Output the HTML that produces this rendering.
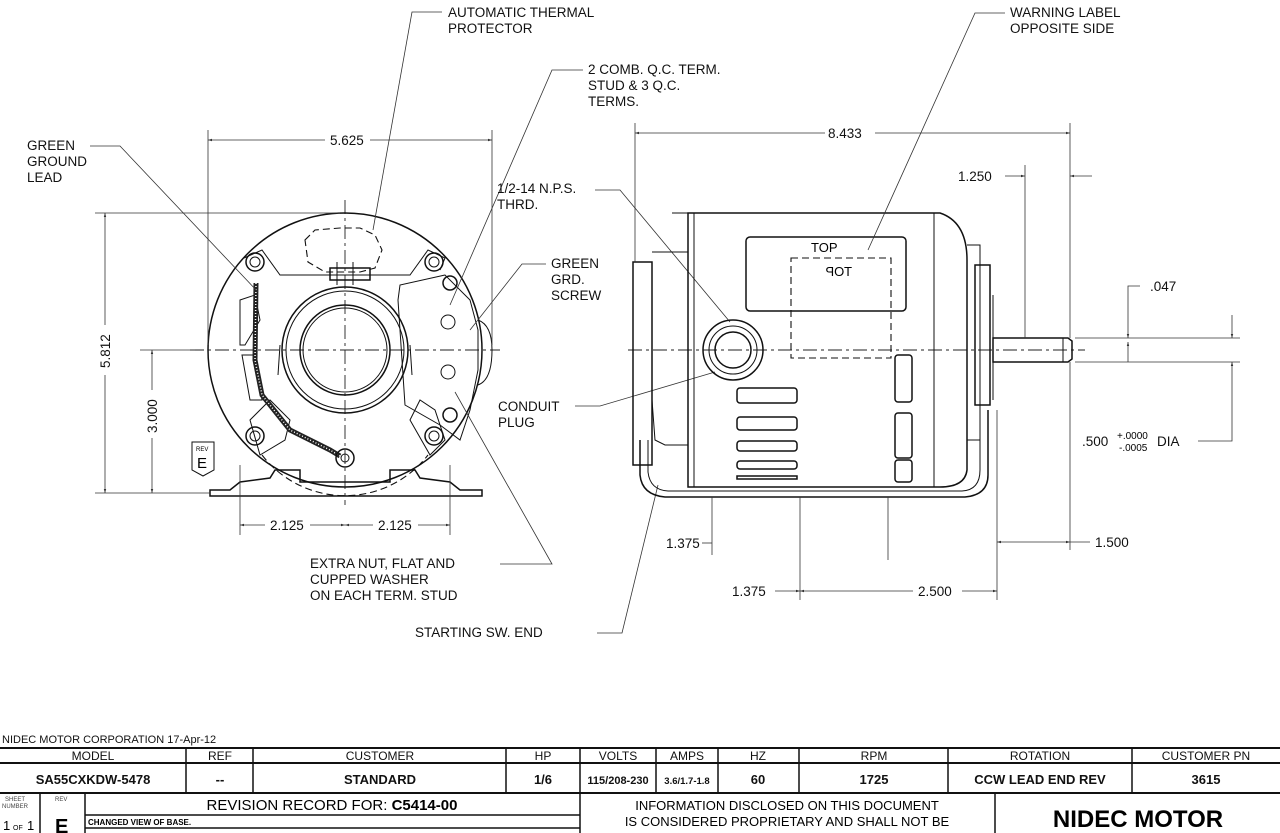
<!DOCTYPE html>
<html><head><meta charset="utf-8"><style>
html,body{margin:0;padding:0;background:#fff;}
svg{display:block;font-family:"Liberation Sans",Arial,sans-serif;}
.t{font-size:13.5px;fill:#111;}
.d{stroke:#333;stroke-width:0.8;fill:none;}
.k{stroke:#111;stroke-width:1.5;fill:none;}
.m{stroke:#111;stroke-width:1;fill:none;}
.c{stroke:#222;stroke-width:0.9;fill:none;stroke-dasharray:14 4 3 4;}
.h{stroke:#111;stroke-width:1.1;fill:none;stroke-dasharray:7 4;}
.tb{font-size:12px;fill:#111;}
.tbb{font-size:13px;font-weight:bold;fill:#111;}
</style></head><body>
<svg width="1280" height="833" viewBox="0 0 1280 833" xmlns="http://www.w3.org/2000/svg">
<defs><marker id="a" viewBox="0 0 10 10" refX="10" refY="5" markerWidth="9" markerHeight="5" orient="auto-start-reverse"><path d="M0,2 L10,5 L0,8 z" fill="#333"/></marker></defs>

<!-- ============ LEFT VIEW ============ -->
<line class="c" x1="190" y1="350" x2="500" y2="350"/>
<line class="c" x1="345" y1="200" x2="345" y2="505"/>
<circle class="k" cx="345" cy="350" r="137"/>
<path class="h" d="M262,455 A105,105 0 0 0 428,455"/>
<circle class="k" cx="345" cy="350" r="63"/>
<circle class="m" cx="345" cy="350" r="59"/>
<circle class="k" cx="345" cy="350" r="45"/>
<circle class="m" cx="345" cy="350" r="42"/>
<path class="m" d="M280,345 L278,375 M410,345 L412,375"/>
<g class="k"><circle cx="255" cy="262" r="9"/><circle cx="434" cy="262" r="9"/><circle cx="255" cy="436" r="9"/><circle cx="434" cy="436" r="9"/></g>
<g class="m"><circle cx="255" cy="262" r="5"/><circle cx="434" cy="262" r="5"/><circle cx="255" cy="436" r="5"/><circle cx="434" cy="436" r="5"/></g>
<path class="m" d="M244,258 L262,250 L280,275 L410,275 L428,250 L445,258 L440,270"/>
<path class="m" d="M445,275 L400,285 L398,300 L405,405 L440,425 L460,440 L470,410 L478,370 L478,330 L470,300 Z"/>
<path class="m" d="M240,300 L255,295 L260,320 L245,345 L240,345 Z M242,355 L255,355 L262,400 L250,400 Z"/>
<path class="m" d="M250,420 L270,400 L290,420 L285,440 L260,455 Z M410,420 L420,400 L435,410 L445,440 L430,455 Z"/>
<path class="h" d="M305,240 L315,230 L340,228 L360,228 L375,235 L382,250 L375,268 L360,272 L325,272 L308,262 Z"/>
<path class="k" d="M330,268 L370,268 L370,280 L330,280 Z"/>
<line class="m" x1="337" y1="262" x2="337" y2="285"/><line class="m" x1="353" y1="262" x2="353" y2="285"/>
<path d="M256,283 L255,360 L262,395 L290,430 L330,450 L340,456" stroke="#222" stroke-width="5" fill="none"/>
<path d="M256,283 L255,360 L262,395 L290,430 L330,450 L340,456" stroke="#fff" stroke-width="1.5" fill="none" stroke-dasharray="1 2"/>
<circle class="k" cx="345" cy="458" r="9"/><circle class="m" cx="345" cy="458" r="4"/>
<circle class="k" cx="450" cy="283" r="7"/><circle class="k" cx="450" cy="415" r="7"/>
<circle class="m" cx="448" cy="322" r="7"/><circle class="m" cx="448" cy="372" r="7"/>
<path class="m" d="M478,320 Q492,325 492,350 Q492,380 478,385"/>
<path class="k" d="M210,490 L230,490 L240,482 L270,478 L275,470 L300,470 L300,482 L390,482 L390,470 L415,470 L420,478 L450,482 L460,490 L482,490 L482,496 L210,496 Z"/>
<path class="m" d="M192,442 L214,442 L214,470 L203,476 L192,470 Z"/>
<text x="196" y="451" style="font-size:6px">REV</text>
<text x="197" y="468" style="font-size:15px">E</text>

<line class="d" x1="208" y1="130" x2="208" y2="345"/>
<line class="d" x1="492" y1="130" x2="492" y2="345"/>
<line class="d" x1="208" y1="140" x2="325" y2="140" marker-start="url(#a)"/>
<line class="d" x1="370" y1="140" x2="492" y2="140" marker-end="url(#a)"/>
<text class="t" x="330" y="145">5.625</text>
<line class="d" x1="95" y1="213" x2="340" y2="213"/>
<line class="d" x1="95" y1="493" x2="210" y2="493"/>
<line class="d" x1="140" y1="350" x2="195" y2="350"/>
<line class="d" x1="105" y1="213" x2="105" y2="325" marker-start="url(#a)"/>
<line class="d" x1="105" y1="375" x2="105" y2="493" marker-end="url(#a)"/>
<text class="t" transform="translate(110,368) rotate(-90)">5.812</text>
<line class="d" x1="152" y1="350" x2="152" y2="390" marker-start="url(#a)"/>
<line class="d" x1="152" y1="438" x2="152" y2="493" marker-end="url(#a)"/>
<text class="t" transform="translate(157,433) rotate(-90)">3.000</text>
<line class="d" x1="240" y1="465" x2="240" y2="535"/>
<line class="d" x1="450" y1="465" x2="450" y2="535"/>
<line class="d" x1="240" y1="525" x2="265" y2="525" marker-start="url(#a)"/>
<line class="d" x1="310" y1="525" x2="345" y2="525" marker-end="url(#a)"/>
<line class="d" x1="345" y1="525" x2="373" y2="525" marker-start="url(#a)"/>
<line class="d" x1="418" y1="525" x2="450" y2="525" marker-end="url(#a)"/>
<text class="t" x="270" y="530">2.125</text>
<text class="t" x="378" y="530">2.125</text>

<text class="t" x="27" y="150">GREEN</text><text class="t" x="27" y="166">GROUND</text><text class="t" x="27" y="182">LEAD</text>
<polyline class="d" points="90,146 120,146 258,292"/>
<text class="t" x="448" y="17">AUTOMATIC THERMAL</text><text class="t" x="448" y="33">PROTECTOR</text>
<polyline class="d" points="442,12 412,12 373,230"/>
<text class="t" x="588" y="74">2 COMB. Q.C. TERM.</text><text class="t" x="588" y="90">STUD &amp; 3 Q.C.</text><text class="t" x="588" y="106">TERMS.</text>
<polyline class="d" points="583,70 552,70 450,305"/>
<text class="t" x="497" y="193">1/2-14 N.P.S.</text><text class="t" x="497" y="209">THRD.</text>
<polyline class="d" points="595,190 620,190 730,322"/>
<text class="t" x="551" y="268">GREEN</text><text class="t" x="551" y="284">GRD.</text><text class="t" x="551" y="300">SCREW</text>
<polyline class="d" points="546,264 522,264 470,330"/>
<text class="t" x="498" y="411">CONDUIT</text><text class="t" x="498" y="427">PLUG</text>
<polyline class="d" points="575,406 600,406 715,372"/>
<text class="t" x="310" y="568">EXTRA NUT, FLAT AND</text><text class="t" x="310" y="584">CUPPED WASHER</text><text class="t" x="310" y="600">ON EACH TERM. STUD</text>
<polyline class="d" points="500,564 552,564 455,392"/>
<text class="t" x="415" y="637">STARTING SW. END</text>
<polyline class="d" points="597,633 622,633 658,485"/>

<!-- ============ RIGHT VIEW ============ -->
<line class="c" x1="628" y1="350" x2="1085" y2="350"/>
<path class="k" d="M633,262 L652,262 L652,465 L633,465 Z"/>
<path class="m" d="M652,252 L688,252 L688,445 L665,445 L655,440 L652,400"/>
<path class="m" d="M672,213 L688,213 L688,252"/>
<path class="k" d="M688,213 L940,213 Q967,222 967,260 L967,470 Q965,487 940,487 L688,487 Z"/>
<line class="m" x1="694" y1="213" x2="694" y2="487"/><line class="m" x1="934" y1="213" x2="934" y2="487"/>
<rect class="k" x="746" y="237" width="160" height="74" rx="4"/>
<rect class="h" x="791" y="258" width="100" height="100"/>
<text x="811" y="252" style="font-size:13px">TOP</text>
<text x="820" y="276" style="font-size:13px" transform="translate(1672,0) scale(-1,1)">TOP</text>
<circle class="k" cx="733" cy="350" r="30"/><circle class="m" cx="733" cy="350" r="24"/><circle class="k" cx="733" cy="350" r="18"/>
<g class="k"><rect x="737" y="388" width="60" height="15" rx="3"/><rect x="737" y="417" width="60" height="13" rx="3"/><rect x="737" y="441" width="60" height="10" rx="3"/><rect x="737" y="461" width="60" height="8" rx="3"/><rect x="737" y="476" width="60" height="3"/></g>
<g class="k"><rect x="895" y="355" width="17" height="47" rx="3"/><rect x="895" y="413" width="17" height="45" rx="3"/><rect x="895" y="460" width="17" height="22" rx="3"/></g>
<path class="m" d="M967,245 L980,245 L980,440 L967,440"/>
<path class="k" d="M975,265 L990,265 L990,405 L975,405 Z"/>
<path class="m" d="M993,295 L993,400"/>
<path class="k" d="M640,440 L640,475 Q642,495 665,497 L965,497 Q988,495 988,475 L988,410"/>
<path class="m" d="M648,440 L648,472 Q650,490 668,491 L962,491 Q980,490 980,470 L980,410"/>
<path class="k" d="M993,338 L1068,338 L1072,341 L1072,359 L1068,362 L993,362 Z"/>
<line class="m" x1="1063" y1="338" x2="1063" y2="362"/>

<line class="d" x1="635" y1="123" x2="635" y2="262"/>
<line class="d" x1="1070" y1="123" x2="1070" y2="338"/>
<line class="d" x1="635" y1="133" x2="825" y2="133" marker-start="url(#a)"/>
<line class="d" x1="875" y1="133" x2="1070" y2="133" marker-end="url(#a)"/>
<text class="t" x="828" y="138">8.433</text>
<line class="d" x1="1025" y1="165" x2="1025" y2="338"/>
<line class="d" x1="1005" y1="176" x2="1025" y2="176" marker-end="url(#a)"/>
<line class="d" x1="1092" y1="176" x2="1070" y2="176" marker-end="url(#a)"/>
<text class="t" x="958" y="181">1.250</text>
<polyline class="d" points="1140,286 1128,286 1128,338" marker-end="url(#a)"/>
<line class="d" x1="1128" y1="362" x2="1128" y2="342" marker-end="url(#a)"/>
<text class="t" x="1150" y="291">.047</text>
<line class="d" x1="1075" y1="338" x2="1240" y2="338"/>
<line class="d" x1="1075" y1="362" x2="1240" y2="362"/>
<line class="d" x1="1232" y1="315" x2="1232" y2="338" marker-end="url(#a)"/>
<polyline class="d" points="1198,441 1232,441 1232,362" marker-end="url(#a)"/>
<text class="t" x="1082" y="446">.500</text>
<text x="1117" y="439" style="font-size:10px">+.0000</text>
<text x="1119" y="451" style="font-size:10px">-.0005</text>
<text class="t" x="1157" y="446">DIA</text>
<line class="d" x1="997" y1="410" x2="997" y2="600"/>
<line class="d" x1="1070" y1="362" x2="1070" y2="550"/>
<line class="d" x1="997" y1="542" x2="1070" y2="542" marker-start="url(#a)" marker-end="url(#a)"/>
<text class="t" x="1095" y="547">1.500</text>
<line class="d" x1="1070" y1="542" x2="1090" y2="542"/>
<line class="d" x1="712" y1="497" x2="712" y2="555"/>
<line class="d" x1="800" y1="497" x2="800" y2="600"/>
<line class="d" x1="888" y1="497" x2="888" y2="560"/>
<text class="t" x="666" y="548">1.375</text>
<line class="d" x1="712" y1="543" x2="702" y2="543"/>
<text class="t" x="732" y="596">1.375</text>
<line class="d" x1="775" y1="591" x2="800" y2="591" marker-end="url(#a)"/>
<line class="d" x1="800" y1="591" x2="913" y2="591" marker-start="url(#a)"/>
<line class="d" x1="962" y1="591" x2="997" y2="591" marker-end="url(#a)"/>
<text class="t" x="918" y="596">2.500</text>
<text class="t" x="1010" y="17">WARNING LABEL</text><text class="t" x="1010" y="33">OPPOSITE SIDE</text>
<polyline class="d" points="1005,13 975,13 868,250"/>

<!-- ============ TITLE BLOCK ============ -->
<text x="2" y="743" style="font-size:11px;fill:#111">NIDEC MOTOR CORPORATION 17-Apr-12</text>
<g stroke="#111" fill="none">
<line x1="0" y1="748" x2="1280" y2="748" stroke-width="2"/>
<line x1="0" y1="763" x2="1280" y2="763" stroke-width="2"/>
<line x1="0" y1="793" x2="1280" y2="793" stroke-width="2"/>
<line x1="186" y1="748" x2="186" y2="793" stroke-width="1.5"/>
<line x1="253" y1="748" x2="253" y2="793" stroke-width="1.5"/>
<line x1="506" y1="748" x2="506" y2="793" stroke-width="1.5"/>
<line x1="580" y1="748" x2="580" y2="833" stroke-width="1.5"/>
<line x1="656" y1="748" x2="656" y2="793" stroke-width="1.5"/>
<line x1="718" y1="748" x2="718" y2="793" stroke-width="1.5"/>
<line x1="799" y1="748" x2="799" y2="793" stroke-width="1.5"/>
<line x1="948" y1="748" x2="948" y2="793" stroke-width="1.5"/>
<line x1="1132" y1="748" x2="1132" y2="793" stroke-width="1.5"/>
<line x1="40" y1="793" x2="40" y2="833" stroke-width="1.5"/>
<line x1="85" y1="793" x2="85" y2="833" stroke-width="1.5"/>
<line x1="995" y1="793" x2="995" y2="833" stroke-width="1.5"/>
<line x1="85" y1="815" x2="580" y2="815" stroke-width="1.5"/>
<line x1="85" y1="828" x2="580" y2="828" stroke-width="1.5"/>
</g>
<g class="tb" text-anchor="middle">
<text x="93" y="760">MODEL</text><text x="220" y="760">REF</text><text x="380" y="760">CUSTOMER</text>
<text x="543" y="760">HP</text><text x="618" y="760">VOLTS</text><text x="687" y="760">AMPS</text>
<text x="758" y="760">HZ</text><text x="874" y="760">RPM</text><text x="1040" y="760">ROTATION</text><text x="1206" y="760">CUSTOMER PN</text>
</g>
<g class="tbb" text-anchor="middle">
<text x="93" y="784">SA55CXKDW-5478</text><text x="220" y="784">--</text><text x="380" y="784">STANDARD</text>
<text x="543" y="784">1/6</text><text x="618" y="784" style="font-size:11px">115/208-230</text><text x="687" y="784" style="font-size:9.5px">3.6/1.7-1.8</text>
<text x="758" y="784">60</text><text x="874" y="784">1725</text><text x="1040" y="784">CCW LEAD END REV</text><text x="1206" y="784">3615</text>
</g>
<text x="5" y="801" style="font-size:6px;fill:#444">SHEET</text><text x="2" y="808" style="font-size:6px;fill:#444">NUMBER</text>
<text x="55" y="801" style="font-size:6px;fill:#444">REV</text>
<text x="3" y="830" style="font-size:13px">1</text><text x="13" y="830" style="font-size:7px">OF</text><text x="27" y="830" style="font-size:13px">1</text>
<text x="55" y="833" style="font-size:20px;font-weight:bold">E</text>
<text x="332" y="810" text-anchor="middle" style="font-size:15px">REVISION RECORD FOR: <tspan font-weight="bold">C5414-00</tspan></text>
<text x="88" y="825" style="font-size:8px;font-weight:bold">CHANGED VIEW OF BASE.</text>
<text x="787" y="810" text-anchor="middle" style="font-size:13px">INFORMATION DISCLOSED ON THIS DOCUMENT</text>
<text x="787" y="826" text-anchor="middle" style="font-size:13px">IS CONSIDERED PROPRIETARY AND SHALL NOT BE</text>
<text x="1138" y="827" text-anchor="middle" style="font-size:24px;font-weight:bold">NIDEC MOTOR</text>
</svg>
</body></html>
